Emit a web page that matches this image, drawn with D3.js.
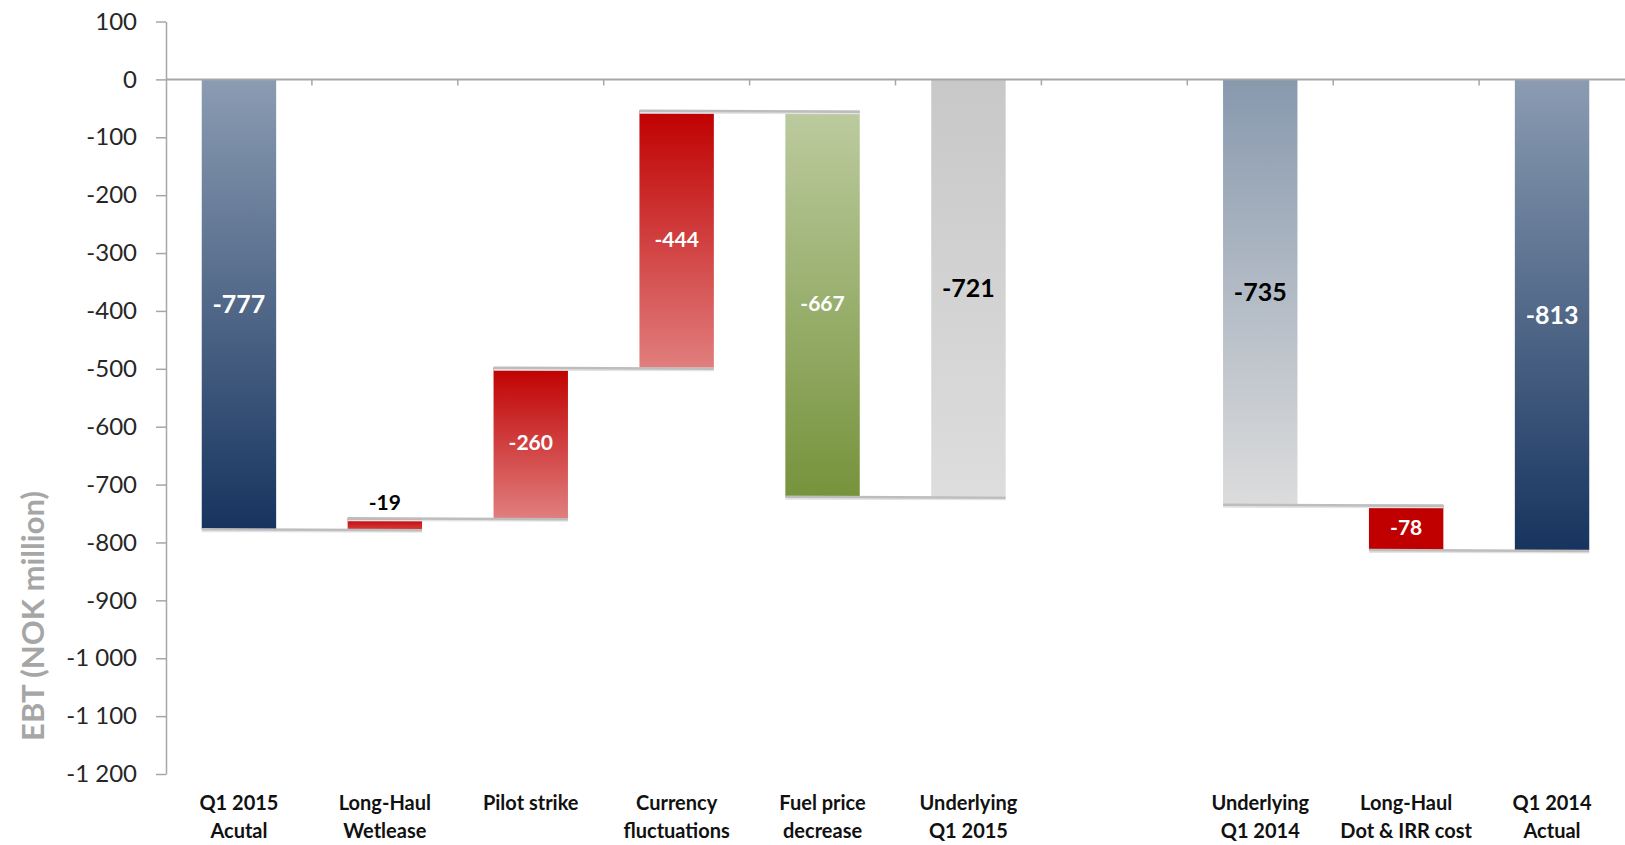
<!DOCTYPE html>
<html>
<head>
<meta charset="utf-8">
<script src="https://cdn.jsdelivr.net/npm/d3@7/dist/d3.min.js"></script>
<style>
  html, body { margin: 0; padding: 0; background: #ffffff; }
  svg { display: block; }
</style>
</head>
<body>
<svg id="chart" width="1625" height="845"></svg>
<script>
// EBT bridge, Q1 2015 vs Q1 2014 (NOK million)
const categoryLines = [
  ["Q1 2015", "Acutal"],
  ["Long-Haul", "Wetlease"],
  ["Pilot strike"],
  ["Currency", "fluctuations"],
  ["Fuel price", "decrease"],
  ["Underlying", "Q1 2015"],
  [],
  ["Underlying", "Q1 2014"],
  ["Long-Haul", "Dot & IRR cost"],
  ["Q1 2014", "Actual"]
];
const values = [-777, -19, -260, -444, -667, -721, null, -735, -78, -813];
// total: bar from zero; reversed: effect removed from the running level; step: effect added
const kinds = ["total", "reversed", "reversed", "reversed", "step", "total", "gap", "total", "step", "total"];
const yTickValues = [100, 0, -100, -200, -300, -400, -500, -600, -700, -800, -900, -1000, -1100, -1200];
const yTitle = "EBT (NOK million)";

// Running level of the bridge
let level = 0;
const bars = values.map((v, i) => {
  const k = kinds[i];
  if (k === "gap") { level = null; return null; }
  let from, to;
  if (k === "total") { from = 0; to = v; }
  else if (k === "reversed") { from = level; to = level - v; }
  else { from = level; to = level + v; }
  level = to;
  return { i, value: v, kind: k, from, to, end: to };
});

const svg = d3.select("#chart");
const font = "Lato, 'Open Sans', sans-serif";

const x = d3.scaleBand()
  .domain(d3.range(categoryLines.length))
  .range([166, 1625])
  .paddingInner(0.49)
  .paddingOuter(0.245);

const y = d3.scaleLinear()
  .domain([100, -1200])
  .range([21.5, 774]);

const fmt = d3.formatLocale({ decimal: ",", thousands: " ", grouping: [3], currency: ["", ""], minus: "-" }).format(",d");

// Gradients
const defs = svg.append("defs");
function grad(id, top, bottom) {
  const g = defs.append("linearGradient").attr("id", id)
    .attr("x1", 0).attr("y1", 0).attr("x2", 0).attr("y2", 1);
  g.append("stop").attr("offset", "0%").attr("stop-color", top);
  g.append("stop").attr("offset", "100%").attr("stop-color", bottom);
}
grad("gBlue", "#8b9cb2", "#17345f");
grad("gRed", "#c00000", "#e17e7e");
grad("gRedShort", "#c00000", "#d43a3a");
grad("gGreen", "#bccb9f", "#76933c");
grad("gGrey", "#c8c8c8", "#dddddd");
grad("gBlueGrey", "#8899ae", "#dcdcdc");

const fills = ["url(#gBlue)", "url(#gRedShort)", "url(#gRed)", "url(#gRed)", "url(#gGreen)", "url(#gGrey)", "none", "url(#gBlueGrey)", "#c00000", "url(#gBlue)"];
const labelColors = ["#ffffff", "#000000", "#ffffff", "#ffffff", "#ffffff", "#000000", "#000000", "#000000", "#ffffff", "#ffffff"];

// Y axis
const yAxis = svg.append("g")
  .attr("transform", "translate(166,0)")
  .call(d3.axisLeft(y).tickValues(yTickValues).tickFormat(fmt).tickSize(10).tickSizeOuter(0).tickPadding(19));
yAxis.select(".domain").attr("stroke", "#a6a6a6").attr("stroke-width", 1.5);
yAxis.selectAll(".tick line").attr("stroke", "#a6a6a6").attr("stroke-width", 1.5);
yAxis.selectAll(".tick text")
  .attr("font-family", font).attr("font-size", 24).attr("fill", "#262626");

// Axis title
svg.append("text")
  .attr("transform", `translate(32,616) rotate(-90)`)
  .attr("text-anchor", "middle")
  .attr("dominant-baseline", "central")
  .attr("font-family", font).attr("font-size", 31).attr("font-weight", 700)
  .attr("fill", "#a6a6a6")
  .text(yTitle);

// Bars
const present = bars.filter(d => d);
svg.append("g").selectAll("rect").data(present).join("rect")
  .attr("x", d => x(d.i))
  .attr("width", x.bandwidth())
  .attr("y", d => y(Math.max(d.from, d.to)))
  .attr("height", d => Math.abs(y(d.from) - y(d.to)))
  .attr("fill", d => fills[d.i]);

// Zero line and category ticks
const step = x.step();
svg.append("line")
  .attr("x1", 166).attr("x2", 1625).attr("y1", y(0)).attr("y2", y(0))
  .attr("stroke", "#a6a6a6").attr("stroke-width", 2);
svg.append("g").selectAll("line").data(d3.range(1, categoryLines.length)).join("line")
  .attr("x1", k => 166 + k * step).attr("x2", k => 166 + k * step)
  .attr("y1", y(0)).attr("y2", y(0) + 6)
  .attr("stroke", "#a6a6a6").attr("stroke-width", 1.5);

// Connectors between consecutive bars
const links = [];
for (let i = 0; i < bars.length - 1; i++) {
  if (bars[i] && bars[i + 1]) links.push({ a: i, b: i + 1, v: bars[i].end });
}
const conn = svg.append("g");
conn.selectAll("line.shadow").data(links).join("line").attr("class", "shadow")
  .attr("x1", d => x(d.a)).attr("x2", d => x(d.b) + x.bandwidth())
  .attr("y1", d => y(d.v) + 2).attr("y2", d => y(d.v) + 2.5)
  .attr("stroke", "#e3e3e3").attr("stroke-width", 2);
conn.selectAll("line.main").data(links).join("line").attr("class", "main")
  .attr("x1", d => x(d.a)).attr("x2", d => x(d.b) + x.bandwidth())
  .attr("y1", d => y(d.v)).attr("y2", d => y(d.v) + 1)
  .attr("stroke", "#bdbdbd").attr("stroke-width", 2.5);

// Value labels
svg.append("g").selectAll("text").data(present).join("text")
  .attr("x", d => x(d.i) + x.bandwidth() / 2)
  .attr("y", d => {
    const top = y(Math.max(d.from, d.to)), bot = y(Math.min(d.from, d.to));
    if (bot - top < 30) return top - 8;
    return (top + bot) / 2;
  })
  .attr("dy", d => {
    const top = y(Math.max(d.from, d.to)), bot = y(Math.min(d.from, d.to));
    return bot - top < 30 ? 0 : "0.36em";
  })
  .attr("text-anchor", "middle")
  .attr("font-family", font).attr("font-weight", 700)
  .attr("font-size", d => d.kind === "total" ? 25 : 21)
  .attr("fill", d => labelColors[d.i])
  .text(d => fmt(d.value));

// Category labels
const cat = svg.append("g").selectAll("text").data(categoryLines).join("text")
  .attr("text-anchor", "middle")
  .attr("font-family", font).attr("font-weight", 700).attr("font-size", 20)
  .attr("fill", "#111111")
  .attr("x", (d, i) => x(i) + x.bandwidth() / 2);
cat.selectAll("tspan").data(d => d).join("tspan")
  .attr("x", function () { return d3.select(this.parentNode).attr("x"); })
  .attr("y", (d, j) => 810 + j * 28)
  .text(d => d);
</script>
</body>
</html>
